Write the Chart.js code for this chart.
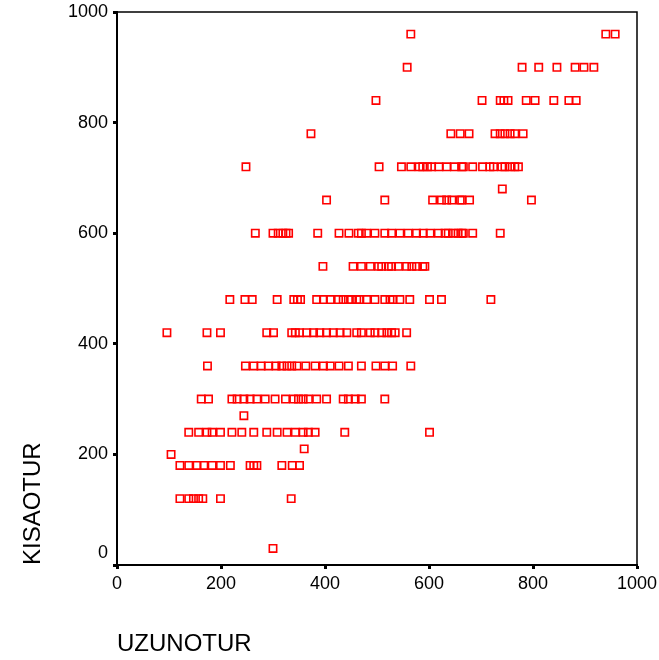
<!DOCTYPE html>
<html>
<head>
<meta charset="utf-8">
<script src="https://cdn.jsdelivr.net/npm/chart.js@4"></script>
<style>
  html, body { margin: 0; padding: 0; background: #fff; }
  #wrap { width: 659px; height: 660px; }
</style>
</head>
<body>
<div id="wrap"><canvas id="scatter"></canvas></div>
<script>
// observations, row by row (KISAOTUR level, then UZUNOTUR values on that level)
const uzunotur = [
  565, 940, 958,
  558, 779, 811, 846, 881, 898, 917,
  498, 702, 737, 744, 752, 787, 804, 840, 869, 883,
  373, 642, 660, 677, 727, 737, 746, 756, 765, 781,
  248, 504, 547, 565, 581, 588, 597, 605, 619, 634, 649, 663, 666, 684, 703, 717, 724, 740, 746, 756, 765, 772,
  741,
  403, 515, 607, 624, 634, 644, 660, 663, 678, 797,
  266, 300, 310, 319, 325, 330, 386, 427, 446, 464, 470, 480, 496, 515, 528, 544, 560, 576, 589, 602, 618, 631, 637, 647, 656, 663, 666, 684, 737,
  396, 454, 470, 487, 503, 509, 522, 528, 541, 557, 567, 576, 588, 592,
  217, 246, 260, 308, 340, 347, 353, 384, 397, 410, 426, 435, 445, 451, 461, 467, 480, 496, 515, 525, 531, 544, 563, 601, 624, 719,
  96, 173, 199, 288, 301, 336, 343, 351, 365, 378, 390, 403, 416, 429, 442, 461, 470, 487, 496, 509, 519, 528, 535, 557,
  174, 247, 263, 277, 291, 306, 317, 327, 336, 346, 363, 381, 397, 410, 427, 445, 470, 498, 515, 530, 565,
  162, 176, 221, 231, 244, 256, 269, 285, 304, 324, 340, 349, 358, 368, 384, 403, 435, 445, 458, 470, 515,
  244,
  138, 157, 173, 183, 199, 221, 240, 263, 288, 308, 327, 343, 358, 368, 381, 438, 601,
  360,
  104,
  121, 138, 154, 167, 183, 199, 218, 256, 263, 269, 317, 337, 351,
  121, 138, 147, 157, 165, 199, 335,
  300
];
const levels = [960, 900, 840, 780, 720, 680, 660, 600, 540, 480, 420, 360, 300, 270, 240, 210, 200, 180, 120, 30];
const levelCounts = [3, 7, 10, 10, 22, 1, 10, 29, 14, 26, 24, 21, 21, 1, 17, 1, 1, 13, 7, 1];
const kisaotur = [];
levels.forEach(function(v, i) {
  for (let k = 0; k < levelCounts[i]; k++) kisaotur.push(v);
});
const xTicks = [0, 200, 400, 600, 800, 1000];
const yTicks = [0, 200, 400, 600, 800, 1000];

const points = uzunotur.map(function(x, i) { return { x: x, y: kisaotur[i] }; });
const FONT = '"Liberation Sans", Arial, sans-serif';

// box round the plot, and the lifted "0" label SPSS style
const framePlugin = {
  id: 'frame',
  afterDraw(chart) {
    const a = chart.chartArea;
    const ctx = chart.ctx;
    ctx.save();
    ctx.strokeStyle = '#000';
    ctx.lineWidth = 1.5;
    ctx.beginPath();
    ctx.moveTo(a.left, a.top);
    ctx.lineTo(a.right, a.top);
    ctx.lineTo(a.right, a.bottom);
    ctx.stroke();
    ctx.fillStyle = '#000';
    ctx.font = '18px ' + FONT;
    ctx.textAlign = 'right';
    ctx.textBaseline = 'middle';
    ctx.fillText('0', a.left - 9, chart.scales.y.getPixelForValue(0) - 12);
    ctx.restore();
  }
};

new Chart(document.getElementById('scatter'), {
  type: 'scatter',
  data: {
    datasets: [{
      data: points,
      pointStyle: 'rect',
      pointRadius: 5.2,
      pointHoverRadius: 5.2,
      borderColor: '#ff0000',
      backgroundColor: 'rgba(0,0,0,0)',
      borderWidth: 1.6
    }]
  },
  options: {
    responsive: true,
    maintainAspectRatio: false,
    animation: false,
    layout: { padding: { top: 12, right: 22, left: 0, bottom: 0 } },
    plugins: { legend: { display: false }, tooltip: { enabled: false } },
    scales: {
      x: {
        type: 'linear',
        min: 0,
        max: 1000,
        afterFit: function(s) { s.height = 95; s.paddingLeft = 0; s.paddingRight = 0; },
        afterBuildTicks: function(s) { s.ticks = xTicks.map(function(v) { return { value: v }; }); },
        border: { display: true, color: '#000', width: 2 },
        grid: { drawOnChartArea: false, tickLength: 4, tickWidth: 3, color: '#000' },
        ticks: {
          color: '#000', padding: 4, maxRotation: 0, font: { family: FONT, size: 18 },
          callback: function(v) { return String(v); }
        },
        title: {
          display: true, text: 'UZUNOTUR', align: 'start', color: '#000',
          padding: { top: 0, bottom: 1 },
          font: { family: FONT, size: 24 }
        }
      },
      y: {
        type: 'linear',
        min: 0,
        max: 1000,
        afterFit: function(s) { s.width = 117; s.paddingTop = 0; s.paddingBottom = 0; },
        afterBuildTicks: function(s) { s.ticks = yTicks.map(function(v) { return { value: v }; }); },
        border: { display: true, color: '#000', width: 2 },
        grid: { drawOnChartArea: false, tickLength: 4, tickWidth: 3, color: '#000' },
        ticks: {
          color: '#000', padding: 5, font: { family: FONT, size: 18 },
          callback: function(v) { return v === 0 ? '' : String(v); }
        },
        title: {
          display: true, text: 'KISAOTUR', align: 'start', color: '#000',
          padding: { top: 19, bottom: 0 },
          font: { family: FONT, size: 24 }
        }
      }
    }
  },
  plugins: [framePlugin]
});
</script>
</body>
</html>
